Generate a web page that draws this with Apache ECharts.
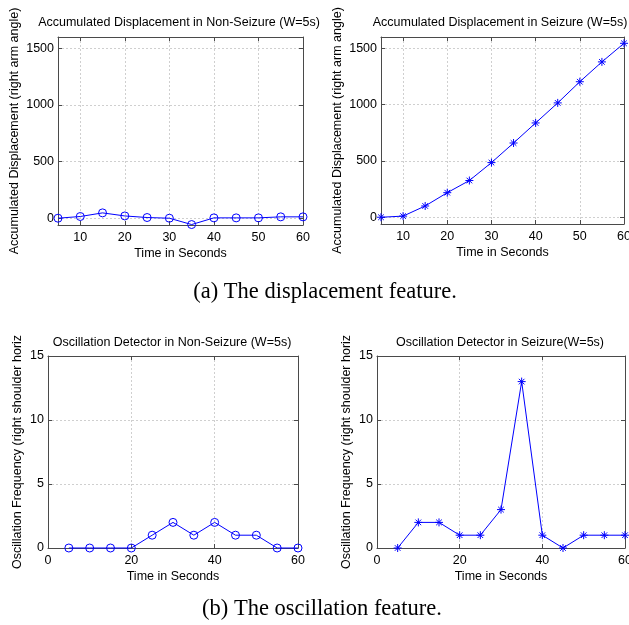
<!DOCTYPE html>
<html><head><meta charset="utf-8">
<script src="https://cdn.jsdelivr.net/npm/echarts@6/dist/echarts.min.js"></script>
<style>html,body{margin:0;padding:0;background:#fff}#c{width:629px;height:625px}</style>
</head><body><div id="c"></div><script>
// ---- data ----
const timeSec = [5, 10, 15, 20, 25, 30, 35, 40, 45, 50, 55, 60];
const dispNonSeizure = [0, 15, 47, 20, 6, 0, -56, 3, 3, 3, 12, 12];
const dispSeizure = [0, 10, 100, 218, 326, 485, 659, 837, 1015, 1203, 1379, 1544];
const oscNonSeizure = [0, 0, 0, 0, 1, 2, 1, 2, 1, 1, 0, 0];
const oscSeizure = [0, 2, 2, 1, 1, 3, 13, 1, 0, 1, 1, 1];
const dispXTicks = [10, 20, 30, 40, 50, 60];
const dispYTicks = [0, 500, 1000, 1500];
const oscXTicks = [0, 20, 40, 60];
const oscYTicks = [0, 5, 10, 15];
const titles = [
  'Accumulated Displacement in Non-Seizure (W=5s)',
  'Accumulated Displacement in Seizure (W=5s)',
  'Oscillation Detector in Non-Seizure (W=5s)',
  'Oscillation Detector in Seizure(W=5s)'
];
const xName = 'Time in Seconds';
const dispYName = 'Accumulated Displacement (right arm angle)';
const oscYName = 'Oscillation Frequency (right shoulder horiz';
const captions = ['(a) The displacement feature.', '(b) The oscillation feature.'];

// ---- layout ----
const FONT = '"Liberation Sans", Arial, sans-serif';
const FS = 12.5;
const BLUE = '#0000ff';
const AXC = '#4a4a4a';
const grids = [
  {left: 58, top: 37, width: 245, height: 188, outerBoundsMode: 'none', containLabel: false},
  {left: 381, top: 37, width: 243, height: 187, outerBoundsMode: 'none', containLabel: false},
  {left: 48, top: 356, width: 250, height: 192, outerBoundsMode: 'none', containLabel: false},
  {left: 377, top: 356, width: 248, height: 192, outerBoundsMode: 'none', containLabel: false}
];
const cfg = [
  {xmin: 5, xmax: 60, xt: dispXTicks, ymin: -60, ymax: 1600, yt: dispYTicks, yName: dispYName, yGap: 37, xGap: 22},
  {xmin: 5, xmax: 60, xt: dispXTicks, ymin: -60, ymax: 1600, yt: dispYTicks, yName: dispYName, yGap: 37, xGap: 22},
  {xmin: 0, xmax: 60, xt: oscXTicks, ymin: 0, ymax: 15, yt: oscYTicks, yName: oscYName, yGap: 24, xGap: 22},
  {xmin: 0, xmax: 60, xt: oscXTicks, ymin: 0, ymax: 15, yt: oscYTicks, yName: oscYName, yGap: 24, xGap: 22}
];
const plain = v => String(v);
const xAxes = [], yAxes = [];
cfg.forEach((c, i) => {
  const lineS = {show: true, onZero: false, lineStyle: {color: AXC, width: 1}};
  const tickS = (vals) => ({show: true, inside: true, length: 4, customValues: vals, lineStyle: {color: AXC}});
  const split = {show: true, lineStyle: {type: [2, 2], color: '#cfcfcf', width: 1}};
  xAxes.push({type: 'value', gridIndex: i, position: 'bottom', min: c.xmin, max: c.xmax,
    axisLine: lineS, axisTick: tickS(c.xt), splitLine: split,
    axisLabel: {customValues: c.xt, formatter: plain, color: '#000', fontSize: FS, fontFamily: FONT, margin: 6},
    name: xName, nameLocation: 'middle', nameGap: c.xGap,
    nameTextStyle: {color: '#000', fontSize: FS, fontFamily: FONT}});
  xAxes.push({type: 'value', gridIndex: i, position: 'top', min: c.xmin, max: c.xmax,
    axisLine: lineS, axisTick: tickS(c.xt), splitLine: {show: false}, axisLabel: {show: false}});
  yAxes.push({type: 'value', gridIndex: i, position: 'left', min: c.ymin, max: c.ymax,
    axisLine: lineS, axisTick: tickS(c.yt), splitLine: split,
    axisLabel: {customValues: c.yt, formatter: plain, color: '#000', fontSize: FS, fontFamily: FONT, margin: 4},
    name: c.yName, nameLocation: 'middle', nameGap: c.yGap, nameRotate: 90,
    nameTextStyle: {color: '#000', fontSize: FS, fontFamily: FONT}});
  yAxes.push({type: 'value', gridIndex: i, position: 'right', min: c.ymin, max: c.ymax,
    axisLine: lineS, axisTick: tickS(c.yt), splitLine: {show: false}, axisLabel: {show: false}});
});

const ASTER = 'path://M0,5L10,5M5,0L5,10M1.5,1.5L8.5,8.5M8.5,1.5L1.5,8.5';
function mk(vals, i, star) {
  return {
    type: 'line', xAxisIndex: 2 * i, yAxisIndex: 2 * i,
    data: timeSec.map((t, k) => [t, vals[k]]),
    symbol: star ? ASTER : 'circle', symbolSize: 8, symbolKeepAspect: true,
    showAllSymbol: true, clip: false, animation: false,
    lineStyle: {color: BLUE, width: 1},
    itemStyle: {color: 'rgba(0,0,0,0)', borderColor: BLUE, borderWidth: 1}
  };
}

const titleCenters = [
  {x: 179, y: 16}, {x: 500, y: 16}, {x: 172, y: 336}, {x: 500, y: 336}
];
const option = {
  backgroundColor: '#fff',
  animation: false,
  title: titles.map((t, i) => ({
    text: t, left: titleCenters[i].x, top: titleCenters[i].y, textAlign: 'center',
    textStyle: {fontSize: FS, fontWeight: 'normal', color: '#000', fontFamily: FONT}, padding: 0
  })),
  grid: grids,
  xAxis: xAxes,
  yAxis: yAxes,
  series: [
    mk(dispNonSeizure, 0, false),
    mk(dispSeizure, 1, true),
    mk(oscNonSeizure, 2, false),
    mk(oscSeizure, 3, true)
  ],
  graphic: [
    {type: 'text', x: 325, y: 292, style: {text: captions[0], font: '22.5px "Liberation Serif", "Times New Roman", serif', fill: '#000', align: 'center', verticalAlign: 'middle'}},
    {type: 'text', x: 322, y: 609, style: {text: captions[1], font: '22.5px "Liberation Serif", "Times New Roman", serif', fill: '#000', align: 'center', verticalAlign: 'middle'}}
  ]
};
const chart = echarts.init(document.getElementById('c'), null, {renderer: 'canvas'});
chart.setOption(option);
</script></body></html>
